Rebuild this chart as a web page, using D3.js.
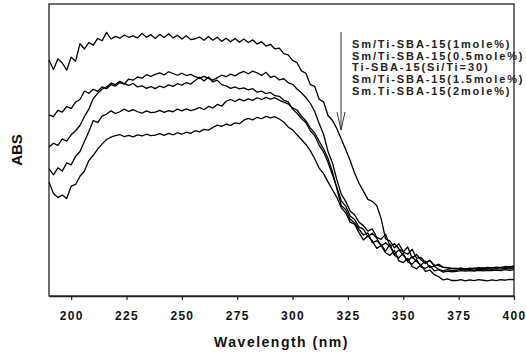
<!DOCTYPE html>
<html>
<head>
<meta charset="utf-8">
<script src="https://cdn.jsdelivr.net/npm/d3@7"></script>
<style>
  body { margin: 0; background: #fff; }
  text { font-family: "Liberation Sans", Arial, sans-serif; font-weight: bold; }
</style>
</head>
<body>
<div id="chart"></div>
<script>
// UV-vis spectra of Sm/Ti-SBA-15 samples (arbitrary ABS units)

var wavelength = [190,192,194,196,198,200,202,204,206,208,210,212,214,216,218,220,222,224,226,228,
  230,232,234,236,238,240,242,244,246,248,250,252,254,256,258,260,262,264,266,268,
  270,272,274,276,278,280,282,284,286,288,290,292,294,296,298,300,302,304,306,308,
  310,312,314,316,318,320,322,324,326,328,330,332,334,336,338,340,342,344,346,348,
  350,352,354,356,358,360,362,364,366,368,370,372,374,376,378,380,382,384,386,388,
  390,392,394,396,398,400];

var sm1 = [80.8,77.6,81.2,79.8,77.3,81.8,80.4,86.4,84.6,86.8,85.9,88.2,87.4,90.3,88.0,88.9,88.3,89.4,88.6,89.1,
  88.4,90.0,88.6,89.5,88.2,89.6,88.5,89.8,88.4,89.3,88.0,89.1,87.8,88.1,88.7,87.6,88.9,87.6,88.6,87.2,
  88.3,87.1,88.2,86.9,88.0,86.8,87.7,86.3,87.1,85.6,86.2,84.6,84.9,83.0,82.6,80.7,79.9,77.1,76.3,72.4,
  71.8,67.4,66.5,61.8,60.1,57.3,53.8,50.2,46.4,42.1,38.6,35.9,33.1,32.4,31.0,26.5,19.6,18.8,16.5,17.9,
  15.1,14.3,16.0,12.9,13.2,11.4,12.1,10.6,10.4,9.9,9.7,9.3,9.5,9.1,9.4,9.2,9.5,9.3,9.6,9.4,
  9.7,9.5,9.8,9.6,10.0,9.9];

var sm05 = [62.0,61.4,63.6,63.0,64.9,64.2,66.4,67.3,70.2,69.4,70.8,70.1,71.6,71.0,72.4,71.9,73.1,72.6,74.3,73.9,
  75.0,74.6,75.8,75.2,75.9,76.4,75.7,76.8,76.2,75.6,76.3,75.5,75.9,75.1,74.6,75.2,74.5,73.9,74.8,75.6,
  75.1,76.0,75.4,76.3,76.9,76.1,77.0,76.4,75.5,76.6,74.9,75.3,74.0,74.4,73.1,72.5,70.9,69.6,68.0,66.0,
  63.2,59.1,55.4,49.5,45.6,39.8,34.9,32.4,29.1,27.8,25.3,24.1,22.2,23.0,20.1,19.4,21.2,17.0,17.9,16.2,
  15.1,16.8,13.0,14.2,12.4,11.1,12.3,10.2,10.9,9.8,9.6,9.5,9.3,9.6,9.2,9.5,9.4,9.7,9.5,9.8,
  9.6,9.9,9.7,10.1,9.9,10.3];

var tiSba = [51.0,52.3,51.6,53.8,53.0,55.2,56.6,58.4,61.5,64.0,67.6,69.4,70.8,71.6,72.9,72.4,73.5,72.7,72.1,72.8,
  71.6,72.0,71.1,71.7,71.0,71.9,71.4,72.3,71.8,72.7,72.2,73.1,72.6,73.8,74.9,73.6,75.0,73.3,73.9,72.4,
  72.0,71.1,71.6,70.9,71.3,70.6,71.0,69.8,70.2,69.3,69.7,68.6,68.4,67.1,66.5,64.0,62.6,60.8,59.4,56.6,
  54.9,51.7,49.3,45.8,41.5,37.2,32.6,30.8,27.4,26.2,23.6,22.9,20.3,21.5,19.8,17.0,18.2,16.9,14.3,15.8,
  13.9,12.0,13.5,11.8,10.6,11.9,9.7,10.3,9.1,8.6,9.0,8.7,8.8,9.2,8.9,9.1,8.8,9.2,9.0,9.3,
  9.1,9.4,9.2,9.5,9.3,9.6];

var sm15 = [43.6,41.5,43.9,42.8,45.6,44.9,47.8,49.5,52.9,56.3,60.1,59.4,61.6,62.3,63.4,62.5,63.1,64.0,63.2,63.8,
  63.1,62.6,63.4,62.8,63.0,63.6,62.9,63.5,63.1,64.0,63.4,64.1,63.5,63.9,64.6,63.8,64.9,64.4,65.6,65.0,
  66.7,67.3,66.6,67.4,66.8,67.5,67.0,67.9,67.3,68.0,67.4,67.9,67.1,66.4,65.8,64.4,63.7,61.6,60.0,57.6,
  55.8,53.0,50.4,47.1,42.6,36.8,30.9,29.6,26.3,25.1,22.8,20.9,21.6,18.3,18.9,17.6,15.4,17.8,13.9,13.1,
  14.6,11.7,10.9,12.5,10.0,9.5,10.4,8.6,9.0,8.2,8.5,8.3,8.4,8.7,8.5,8.7,8.5,8.8,8.6,8.8,
  8.7,8.9,8.7,9.0,8.8,9.0];

var sm2 = [39.0,35.1,33.7,34.6,33.4,37.6,38.2,41.0,42.8,46.4,48.2,50.3,52.1,53.6,54.4,54.9,55.3,54.6,55.0,54.5,
  55.2,54.8,55.4,54.9,55.1,55.6,55.0,55.7,55.2,55.9,55.4,56.1,55.7,56.6,56.2,57.1,56.8,57.7,58.5,58.1,
  58.9,58.4,59.3,59.0,60.2,60.8,60.3,61.2,60.7,61.5,61.0,61.4,60.6,59.6,57.9,56.9,55.2,53.6,51.9,49.8,
  47.0,43.8,41.9,39.1,36.4,33.8,30.2,28.5,25.3,24.6,21.7,19.2,20.6,18.9,16.3,17.2,14.8,13.9,15.6,12.0,
  11.4,12.9,10.1,9.3,10.6,8.4,8.9,7.3,6.6,5.5,5.9,5.3,5.3,5.6,5.2,5.5,5.3,5.6,5.4,5.2,
  5.5,5.3,5.6,5.4,5.7,5.6];

var seriesList = [sm1, sm05, tiSba, sm15, sm2];
var legendLabels = ["Sm/Ti-SBA-15(1mole%)", "Sm/Ti-SBA-15(0.5mole%)", "Ti-SBA-15(Si/Ti=30)",
  "Sm/Ti-SBA-15(1.5mole%)", "Sm.Ti-SBA-15(2mole%)"];
var xTicks = [200, 225, 250, 275, 300, 325, 350, 375, 400];

var W = 526, H = 353;
var margin = {top: 4, right: 12, bottom: 57, left: 49};
var width = W - margin.left - margin.right;
var height = H - margin.top - margin.bottom;

var svg = d3.select("#chart").append("svg")
    .attr("width", W)
    .attr("height", H);

var g = svg.append("g")
    .attr("transform", "translate(" + margin.left + "," + margin.top + ")");

var x = d3.scaleLinear().domain([190, 400]).range([0, width]);
var y = d3.scaleLinear().domain([0, 100]).range([height, 0]);

// frame
g.append("rect")
    .attr("x", 0).attr("y", 0)
    .attr("width", width).attr("height", height)
    .attr("fill", "none")
    .attr("stroke", "#222")
    .attr("stroke-width", 1.3);

var xAxis = g.append("g")
    .attr("transform", "translate(0," + height + ")")
    .call(d3.axisBottom(x).tickValues(xTicks).tickSize(4).tickSizeOuter(0).tickPadding(11));

xAxis.select(".domain").attr("stroke", "#222").attr("stroke-width", 1.3);
xAxis.selectAll(".tick line").attr("stroke", "#222").attr("stroke-width", 1.2);
xAxis.selectAll(".tick text")
    .attr("fill", "#111")
    .style("font-size", "12px")
    .style("font-weight", "bold")
    .style("letter-spacing", "1.3px")
    .style("font-family", "'Liberation Sans', Arial, sans-serif");

var line = d3.line()
    .x(function(d, i) { return x(wavelength[i]); })
    .y(function(d) { return y(d); });

g.selectAll(".spec")
    .data(seriesList)
    .enter()
    .append("path")
    .attr("class", "spec")
    .attr("d", line)
    .attr("fill", "none")
    .attr("stroke", "#000")
    .attr("stroke-width", 1.3)
    .attr("stroke-linejoin", "round");

// arrow pointing down through the legend
var ax = 292;
g.append("line")
    .attr("x1", ax).attr("x2", ax)
    .attr("y1", 28).attr("y2", 126)
    .attr("stroke", "#333").attr("stroke-width", 1);
g.append("path")
    .attr("d", "M" + (ax - 4) + ",108L" + ax + ",126L" + (ax + 4) + ",108")
    .attr("fill", "none")
    .attr("stroke", "#333").attr("stroke-width", 1);

g.selectAll(".leg")
    .data(legendLabels)
    .enter()
    .append("text")
    .attr("class", "leg")
    .attr("x", 303)
    .attr("y", function(d, i) { return 44 + i * 11.7; })
    .style("font-size", "11px")
    .style("letter-spacing", "1.9px")
    .attr("fill", "#222")
    .text(function(d) { return d; });

svg.append("text")
    .attr("x", margin.left + width / 2)
    .attr("y", 347)
    .attr("text-anchor", "middle")
    .style("font-size", "14px")
    .style("letter-spacing", "1.5px")
    .attr("fill", "#111")
    .text("Wavelength (nm)");

svg.append("text")
    .attr("transform", "translate(22,150) rotate(-90)")
    .attr("text-anchor", "middle")
    .style("font-size", "15px")
    .attr("fill", "#111")
    .text("ABS");
</script>
</body>
</html>
